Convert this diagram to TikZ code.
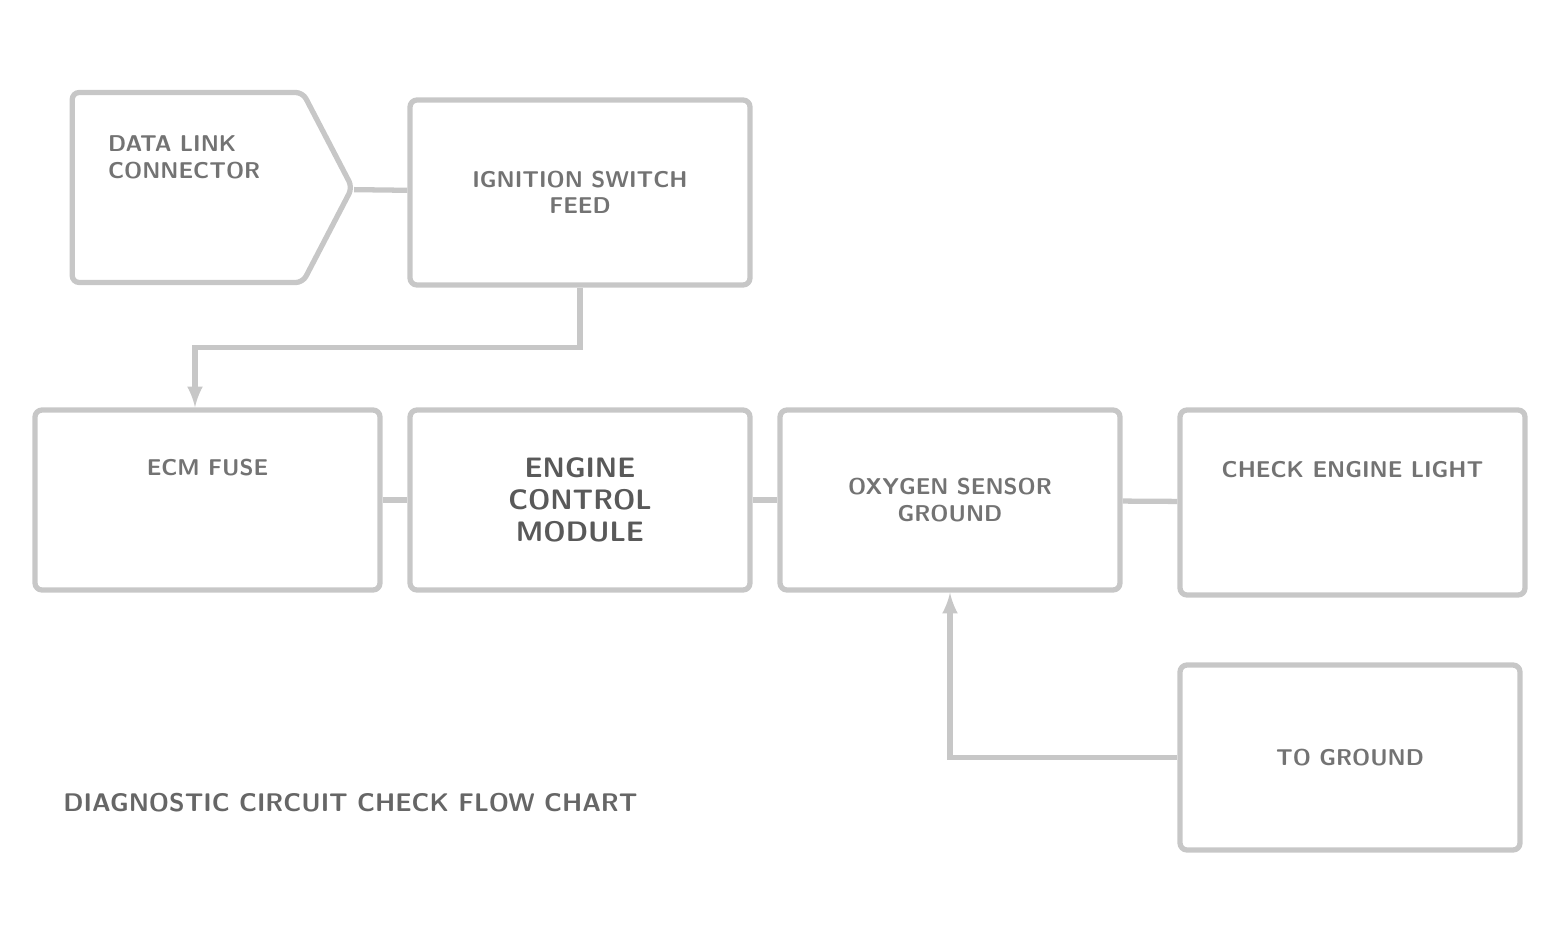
\documentclass[tikz,border=0pt]{standalone}
\usepackage{tikz}
\usetikzlibrary{shapes.symbols}

\tikzset{box/.style={draw=black!22,rounded corners=4pt,minimum width=6.8cm,minimum height=3.6cm,align=center,text=black!55}}

\begin{document}
\begin{tikzpicture}[font=\sffamily\bfseries\fontsize{13}{15}\selectfont, line width=3pt, draw=black!22]
 \useasboundingbox (0,0) rectangle (31.2,-18.5);
 \node[box,signal,signal to=east,signal pointer angle=125,minimum width=5.6cm,minimum height=3.8cm,
   label={[anchor=north west,xshift=0.6cm,yshift=-0.75cm,align=left,text=black!55]north west:DATA LINK\\CONNECTOR}] (dlc) at (3.75,-3.75) {};
 \node[box,minimum height=3.7cm] (ign) at (11.6,-3.85) {IGNITION SWITCH\\FEED};
 \node[box,minimum width=6.9cm] (fuse) at (4.15,-10.0) {ECM FUSE\\[0.8cm]};
 \node[box,font=\sffamily\bfseries\fontsize{16}{18}\selectfont,text=black!65] (ecm) at (11.6,-10.0) {ENGINE\\CONTROL\\MODULE};
 \node[box] (sens) at (19.0,-10.0) {OXYGEN SENSOR\\GROUND};
 \node[box,minimum width=6.9cm,minimum height=3.7cm] (lamp) at (27.05,-10.05) {CHECK ENGINE LIGHT\\[0.8cm]};
 \node[box,minimum height=3.7cm] (gnd) at (27.0,-15.15) {TO GROUND};
 \node[anchor=west,text=black!60,font=\sffamily\bfseries\fontsize{14.5}{16}\selectfont] (note) at (1.1,-16.05) {DIAGNOSTIC CIRCUIT CHECK FLOW CHART};
 \draw (dlc) -- (ign);
 \draw[-latex] (ign.south) -- ++(0,-1.2) -| ([xshift=-0.25cm]fuse.north);
 \draw (fuse) -- (ecm);
 \draw (ecm) -- (sens);
 \draw (sens) -- (lamp);
 \draw[latex-] (sens.south) |- (gnd.west);
\end{tikzpicture}
\end{document}
